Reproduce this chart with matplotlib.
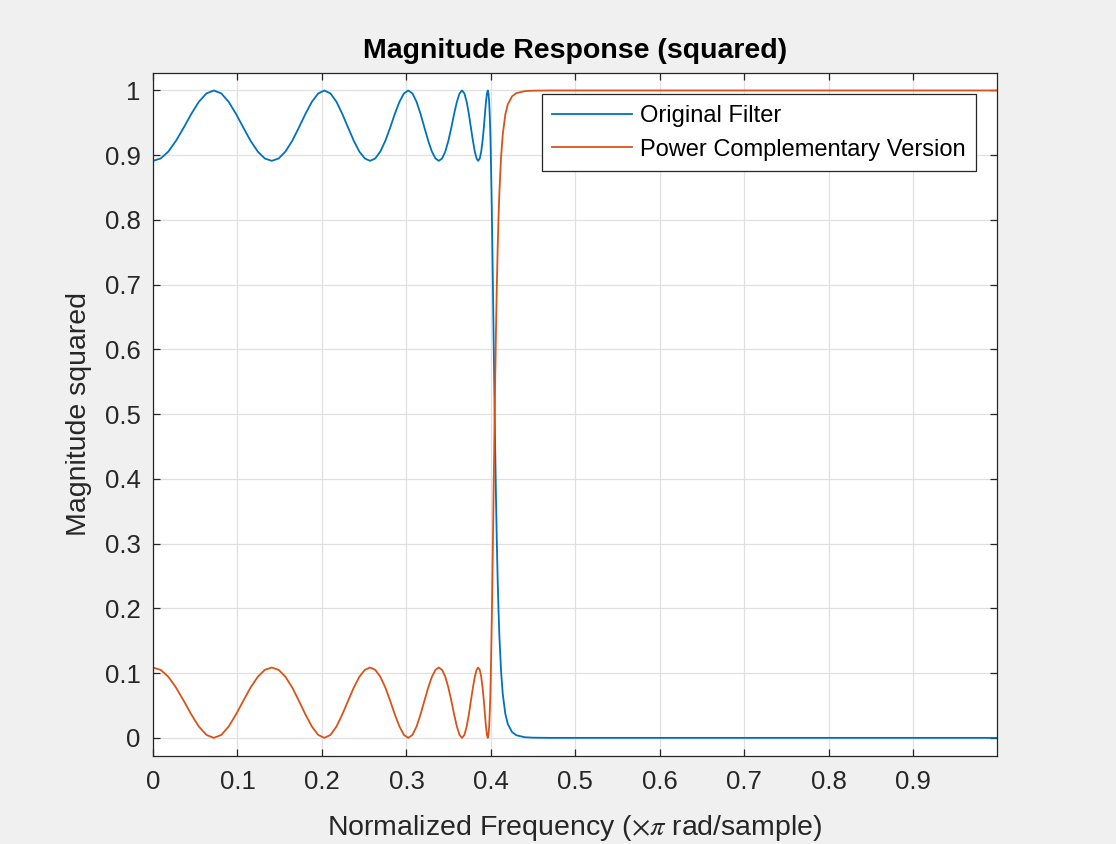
import matplotlib
matplotlib.use('Agg')
import matplotlib.pyplot as plt

plt.rcParams['font.family'] = ['Liberation Sans', 'DejaVu Sans']
plt.rcParams['mathtext.fontset'] = 'stix'

# frequency points (x pi rad/sample), dense where the ripple gets fast
freq = [
    0.0000, 0.0091, 0.0182, 0.0272, 0.0363, 0.0453, 0.0542, 0.0632,
    0.0720, 0.0809, 0.0896, 0.0983, 0.1070, 0.1155, 0.1240, 0.1323,
    0.1406, 0.1488, 0.1568, 0.1648, 0.1726, 0.1804, 0.1880, 0.1955,
    0.2028, 0.2101, 0.2172, 0.2241, 0.2310, 0.2377, 0.2442, 0.2507,
    0.2569, 0.2631, 0.2691, 0.2750, 0.2807, 0.2862, 0.2917, 0.2970,
    0.3021, 0.3071, 0.3120, 0.3167, 0.3213, 0.3258, 0.3301, 0.3343,
    0.3383, 0.3422, 0.3460, 0.3496, 0.3531, 0.3564, 0.3597, 0.3628,
    0.3657, 0.3686, 0.3713, 0.3739, 0.3763, 0.3787, 0.3809, 0.3830,
    0.3849, 0.3868, 0.3885, 0.3901, 0.3916, 0.3929, 0.3941, 0.3953,
    0.3963, 0.3971, 0.3979, 0.3985, 0.3991, 0.3995, 0.3998, 0.3999,
    0.4000,
    0.401, 0.402, 0.403, 0.404, 0.405, 0.406, 0.407, 0.408, 0.409, 0.410,
    0.412, 0.414, 0.417, 0.420, 0.425, 0.430, 0.440, 0.450, 0.470, 0.500,
    0.600, 0.700, 0.800, 0.900, 0.999,
]

# |H|^2 of the original filter
orig_mag2 = [
    0.8913, 0.8950, 0.9057, 0.9222, 0.9425, 0.9637, 0.9824, 0.9954,
    1.0000, 0.9954, 0.9824, 0.9637, 0.9425, 0.9222, 0.9057, 0.8950,
    0.8913, 0.8950, 0.9057, 0.9222, 0.9425, 0.9637, 0.9824, 0.9954,
    1.0000, 0.9954, 0.9824, 0.9637, 0.9425, 0.9222, 0.9057, 0.8950,
    0.8913, 0.8950, 0.9057, 0.9222, 0.9425, 0.9637, 0.9824, 0.9954,
    1.0000, 0.9954, 0.9824, 0.9637, 0.9425, 0.9222, 0.9057, 0.8950,
    0.8913, 0.8950, 0.9057, 0.9222, 0.9425, 0.9637, 0.9824, 0.9954,
    1.0000, 0.9954, 0.9824, 0.9637, 0.9425, 0.9222, 0.9057, 0.8950,
    0.8913, 0.8950, 0.9057, 0.9222, 0.9425, 0.9637, 0.9824, 0.9954,
    1.0000, 0.9954, 0.9824, 0.9637, 0.9425, 0.9222, 0.9057, 0.8950,
    0.8913,
    0.8183, 0.7308, 0.6355, 0.5397, 0.4496, 0.3692, 0.3001, 0.2425, 0.1954, 0.1574,
    0.1026, 0.0677, 0.0373, 0.0213, 0.0090, 0.0041, 0.0010, 0.0003, 0.0000, 0.0000,
    0.0000, 0.0000, 0.0000, 0.0000, 0.0000,
]

# |G|^2 of the power complementary version
comp_mag2 = [
    0.1087, 0.1050, 0.0943, 0.0778, 0.0575, 0.0363, 0.0176, 0.0046,
    0.0000, 0.0046, 0.0176, 0.0363, 0.0575, 0.0778, 0.0943, 0.1050,
    0.1087, 0.1050, 0.0943, 0.0778, 0.0575, 0.0363, 0.0176, 0.0046,
    0.0000, 0.0046, 0.0176, 0.0363, 0.0575, 0.0778, 0.0943, 0.1050,
    0.1087, 0.1050, 0.0943, 0.0778, 0.0575, 0.0363, 0.0176, 0.0046,
    0.0000, 0.0046, 0.0176, 0.0363, 0.0575, 0.0778, 0.0943, 0.1050,
    0.1087, 0.1050, 0.0943, 0.0778, 0.0575, 0.0363, 0.0176, 0.0046,
    0.0000, 0.0046, 0.0176, 0.0363, 0.0575, 0.0778, 0.0943, 0.1050,
    0.1087, 0.1050, 0.0943, 0.0778, 0.0575, 0.0363, 0.0176, 0.0046,
    0.0000, 0.0046, 0.0176, 0.0363, 0.0575, 0.0778, 0.0943, 0.1050,
    0.1087,
    0.1817, 0.2692, 0.3645, 0.4603, 0.5504, 0.6308, 0.6999, 0.7575, 0.8046, 0.8426,
    0.8974, 0.9323, 0.9627, 0.9787, 0.9910, 0.9959, 0.9990, 0.9997, 1.0000, 1.0000,
    1.0000, 1.0000, 1.0000, 1.0000, 1.0000,
]

xticks = [0, 0.1, 0.2, 0.3, 0.4, 0.5, 0.6, 0.7, 0.8, 0.9]
xticklabels = ['0', '0.1', '0.2', '0.3', '0.4', '0.5', '0.6', '0.7', '0.8', '0.9']
yticks = [0, 0.1, 0.2, 0.3, 0.4, 0.5, 0.6, 0.7, 0.8, 0.9, 1]
yticklabels = ['0', '0.1', '0.2', '0.3', '0.4', '0.5', '0.6', '0.7', '0.8', '0.9', '1']

fig = plt.figure(figsize=(11.16, 8.44), dpi=100, facecolor='#f0f0f0')
ax = fig.add_axes([153/1116, 1 - 756/844, (997 - 153)/1116, (756 - 73)/844])
ax.set_facecolor('white')

ax.plot(freq, orig_mag2, color='#0072BD', lw=1.3, label='Original Filter')
ax.plot(freq, comp_mag2, color='#D95319', lw=1.3, label='Power Complementary Version')

ax.set_xlim(0, 0.999)
ax.set_ylim(-0.028, 1.027)
ax.set_xticks(xticks)
ax.set_xticklabels(xticklabels)
ax.set_yticks(yticks)
ax.set_yticklabels(yticklabels)

ax.grid(True, color='#e0e0e0', lw=0.9)
ax.set_axisbelow(True)
for s in ax.spines.values():
    s.set_color('#262626')
    s.set_linewidth(0.9)
ax.tick_params(direction='in', length=5, width=0.9, color='#262626',
               labelcolor='#262626', labelsize=18.5, top=True, right=True)
ax.tick_params(axis='x', pad=10)
ax.tick_params(axis='y', pad=9)

ax.set_title('Magnitude Response (squared)', fontsize=20.5, fontweight='bold',
             color='black', pad=11)
ax.set_xlabel(r'Normalized Frequency ($\times\pi$ rad/sample)', fontsize=20.5,
              color='#262626', labelpad=14)
ax.set_ylabel('Magnitude squared', fontsize=20.5, color='#262626', labelpad=9)

leg = ax.legend(loc='upper right', fontsize=17, frameon=True, fancybox=False,
                edgecolor='#262626', framealpha=1, handlelength=3.4,
                handletextpad=0.3, borderpad=0.45, labelspacing=0.5,
                borderaxespad=0.9)
leg.get_frame().set_linewidth(0.9)

fig.savefig('out.png', dpi=100, facecolor=fig.get_facecolor())
